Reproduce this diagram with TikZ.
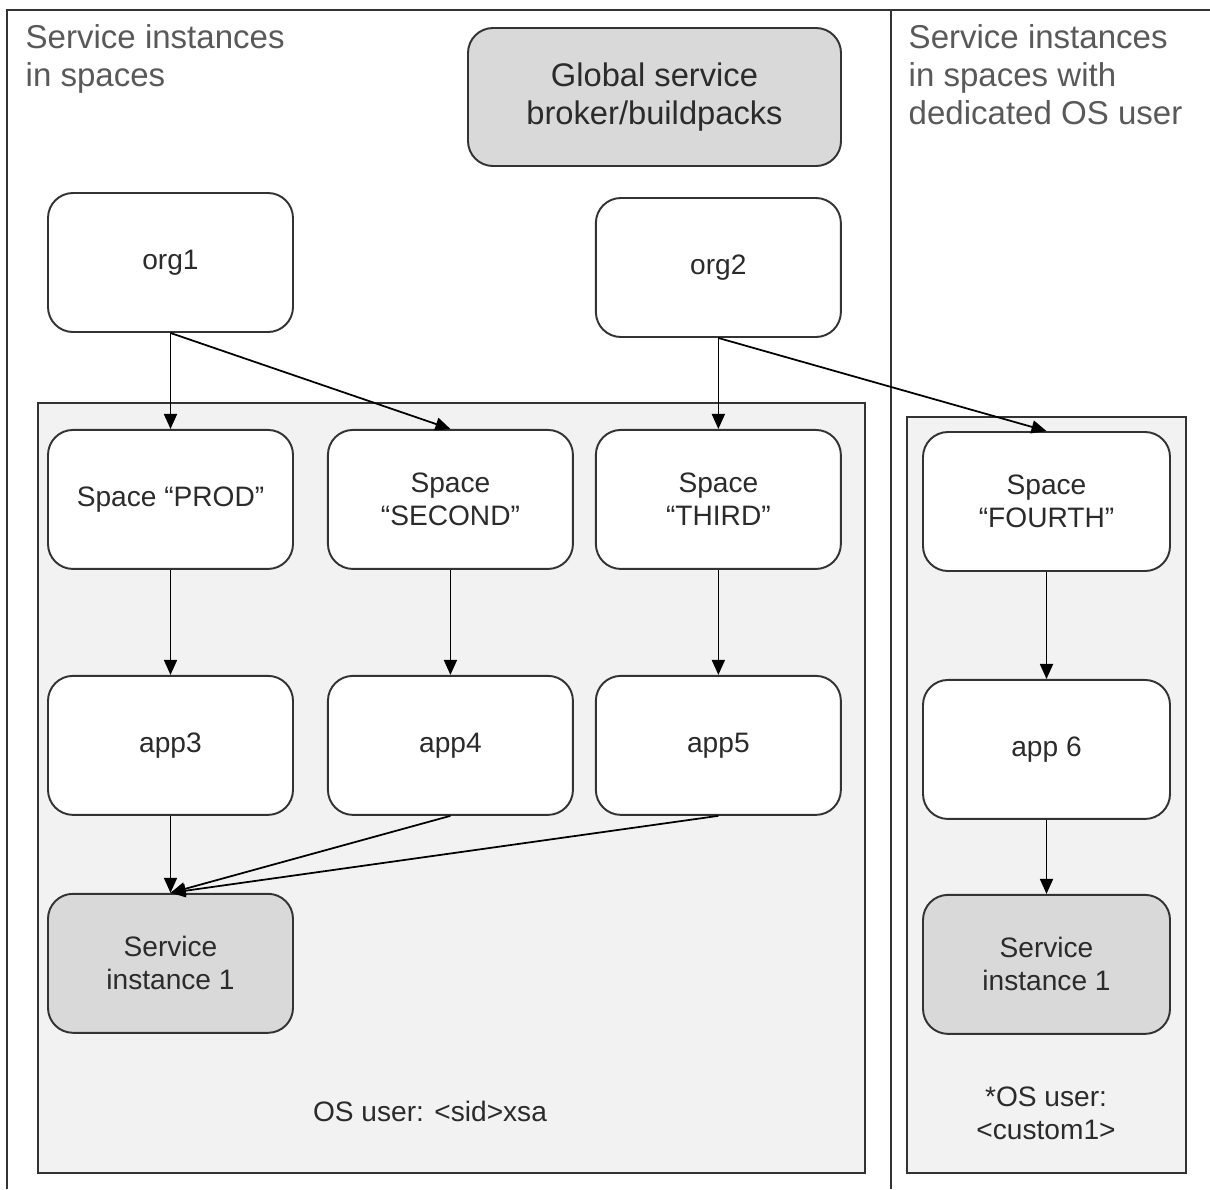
\documentclass[tikz,border=0pt]{standalone}
\usepackage{fontspec}
\setmainfont{Liberation Sans}
\usepackage{tikz}
\usetikzlibrary{positioning, arrows.meta}
\definecolor{FrameGray}{HTML}{333333}
\definecolor{ZoneFill}{HTML}{F2F2F2}
\definecolor{BrokerFill}{HTML}{D9D9D9}
\definecolor{TitleGray}{HTML}{595959}
\definecolor{TextDark}{HTML}{2B2B2B}

\begin{document}
\begin{tikzpicture}[
    box/.style={draw=FrameGray, line width=0.55pt, rounded corners=0.25cm, fill=white, minimum width=2.45cm, minimum height=1.39cm, align=center, text=TextDark},
    grey/.style={box, fill=BrokerFill},
    zone/.style={draw=FrameGray, line width=0.55pt, fill=ZoneFill},
    title/.style={align=left, inner sep=0pt, anchor=north west, text=TitleGray, font=\fontsize{9.4}{10.8}\selectfont},
    arr/.style={-{Triangle[length=1.5mm, width=1.3mm]}, line width=0.5pt, color=black},
    every node/.style={font=\fontsize{8}{9.4}\selectfont}
]
\useasboundingbox (0,0) rectangle (12.1,-11.89);

% frame and divider
\draw[FrameGray, line width=0.6pt] (0.07,-11.89) -- (0.07,-0.10) -- (12.1,-0.10);
\draw[FrameGray, line width=0.6pt] (8.91,-0.10) -- (8.91,-11.89);

% shaded zones
\draw[zone] (0.38,-4.03) rectangle (8.65,-11.73);
\draw[zone] (9.07,-4.17) rectangle (11.86,-11.73);

\node[title] (titleleft) at (0.25,-0.24) {Service instances\\in spaces};
\node[title] (titleright) at (9.08,-0.24) {Service instances\\in spaces with\\dedicated OS user};

\node[grey, minimum width=3.73cm, minimum height=1.38cm, font=\fontsize{9.3}{10.8}\selectfont] (broker) at (6.545,-0.97) {Global service\\broker/buildpacks};

% left zone
\node[box] (org1) at (1.705,-2.625) {org1};
\node[box, below=0.96cm of org1] (prod) {Space “PROD”};
\node[box, right=0.33cm of prod] (second) {Space\\“SECOND”};
\node[box, right=0.21cm of second] (third) {Space\\“THIRD”};
\node[box, above=0.91cm of third] (org2) {org2};
\node[box, below=1.05cm of prod] (app3) {app3};
\node[box, below=1.05cm of second] (app4) {app4};
\node[box, below=1.05cm of third] (app5) {app5};
\node[grey, below=0.77cm of app3] (inst1) {Service\\instance 1};
\node[text=TextDark] (osuser) at (4.30,-11.11) {OS user: <sid>xsa};

% right zone
\node[box, minimum width=2.47cm] (fourth) at (10.465,-5.015) {Space\\“FOURTH”};
\node[box, minimum width=2.47cm, below=1.07cm of fourth] (app6) {app 6};
\node[grey, minimum width=2.47cm, below=0.74cm of app6] (inst2) {Service\\instance 1};
\node[text=TextDark, align=center] (oscustom) at (10.46,-11.13) {*OS user:\\<custom1>};

\draw[arr] (org1.south) -- (prod.north);
\draw[arr] (org1.south) -- (second.north);
\draw[arr] (org2.south) -- (third.north);
\draw[arr] (org2.south) -- (fourth.north);
\draw[arr] (prod) -- (app3);
\draw[arr] (second) -- (app4);
\draw[arr] (third) -- (app5);
\draw[arr] (fourth) -- (app6);
\draw[arr] (app3) -- (inst1);
\draw[arr] (app4.south) -- (inst1.north);
\draw[arr] (app5.south) -- (inst1.north);
\draw[arr] (app6) -- (inst2);

\end{tikzpicture}
\end{document}
